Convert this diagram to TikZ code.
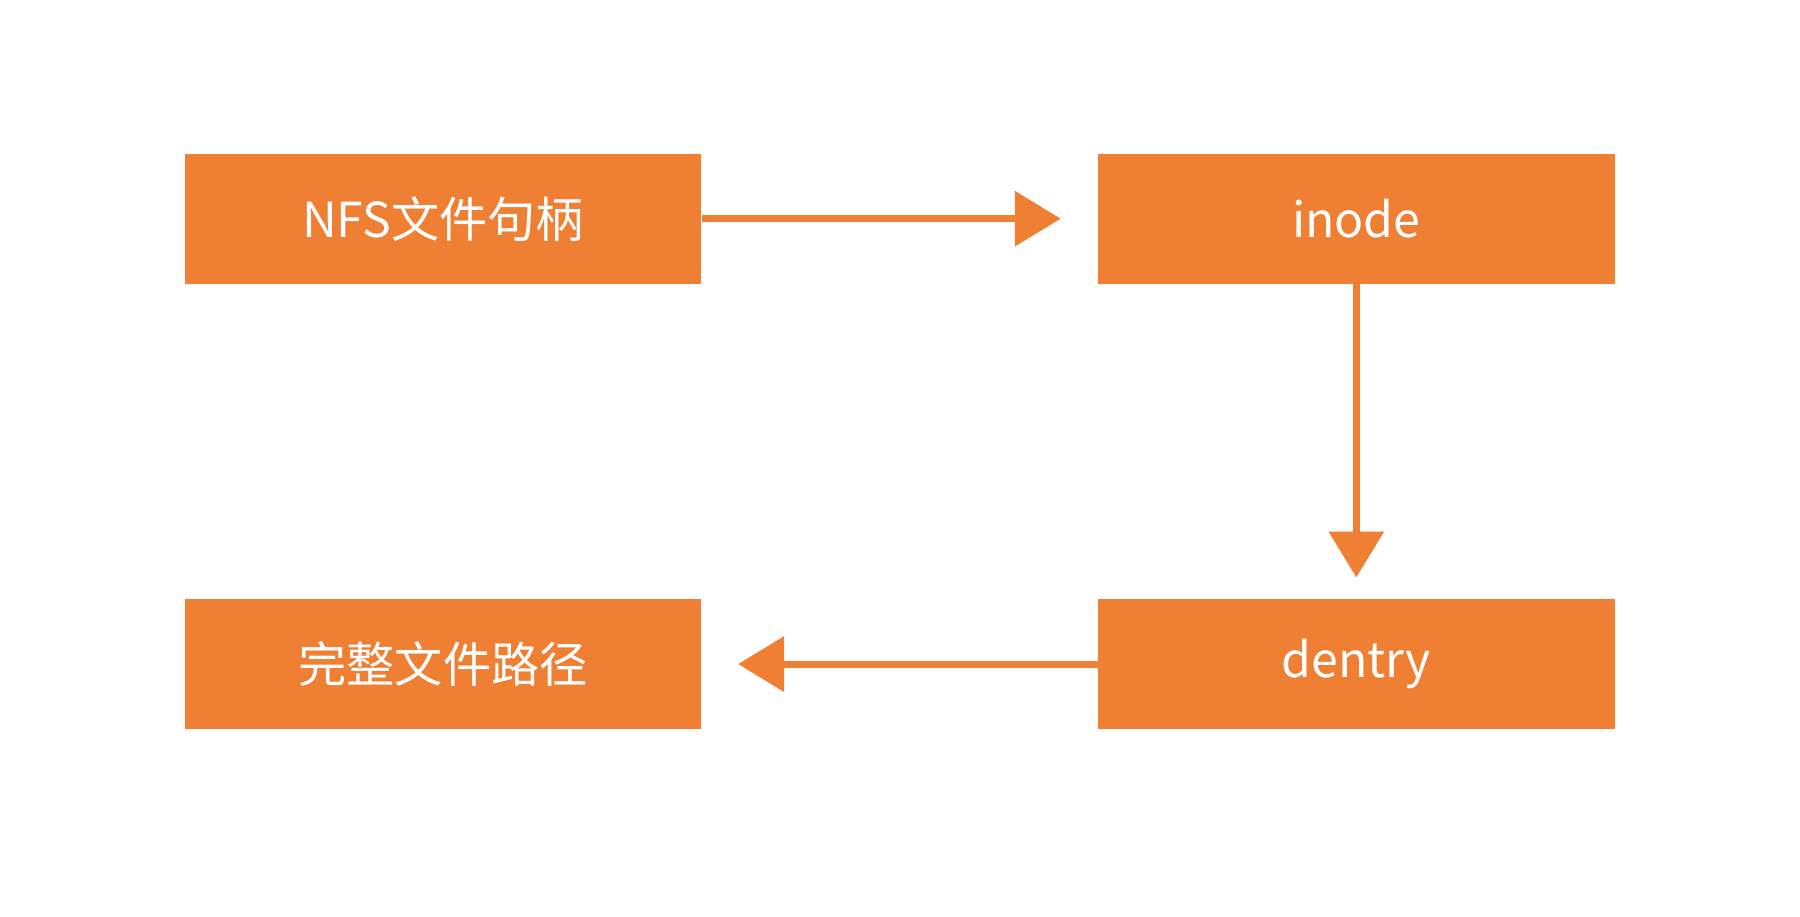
\documentclass[tikz,border=0pt]{standalone}
\usepackage{fontspec}
\setmainfont{Noto Sans CJK SC}
\usetikzlibrary{arrows.meta}
\definecolor{org}{HTML}{EF7F33}
\begin{document}
\begin{tikzpicture}[x=1pt,y=-1pt,
  box/.style={fill=org,draw=none,minimum width=450pt,minimum height=113pt,inner sep=0pt,text=white,font=\fontsize{42}{50}\selectfont},
  arr/.style={draw=org,line width=6pt,-{Triangle[length=40pt,width=47pt]}}]
\useasboundingbox (0,0) rectangle (1568,798);
\node[box] (a) at (386,190.5) {NFS文件句柄};
\node[box] (b) at (1181.5,190.5) {inode};
\node[box] (c) at (386,578.5) {完整文件路径};
\node[box] (d) at (1181.5,578.5) {dentry};
\coordinate (t1) at (924,190.5);
\coordinate (t2) at (1181.5,503);
\coordinate (t3) at (643,578.5);
\draw[arr] (a.east) -- (t1);
\draw[arr] (b.south) -- (t2);
\draw[arr] (d.west) -- (t3);
\end{tikzpicture}
\end{document}
